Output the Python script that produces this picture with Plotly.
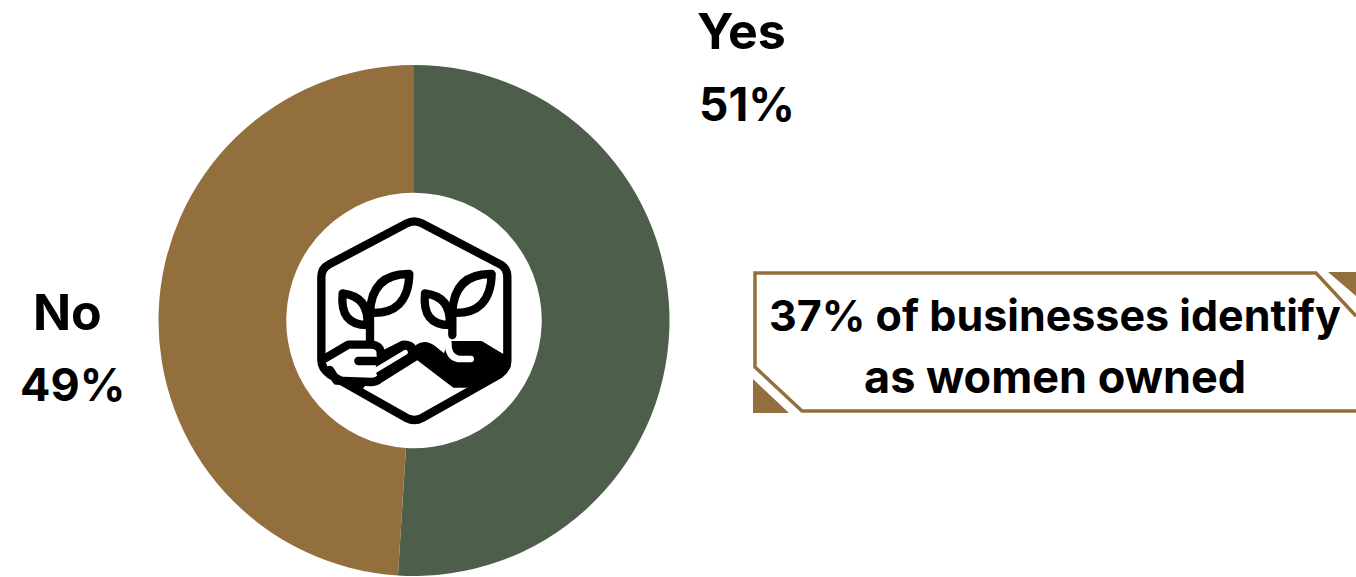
import base64
import plotly.graph_objects as go

# Survey result
answers = ["Yes", "No"]
shares = [51, 49]
slice_colors = ["#4d5f4b", "#936f3d"]
callout_lines = ["37% of businesses identify", "as women owned"]

WIDTH, HEIGHT = 1356, 577
BROWN = "#936f3d"


def px(x):
    return x / WIDTH


def py(y):
    return 1 - y / HEIGHT


def path(points):
    """Build a shape path in paper coordinates from pixel points."""
    return "M " + " L ".join(f"{px(x):.5f},{py(y):.5f}" for x, y in points)


# Seedlings-in-hands emblem for the centre of the ring
ICON_SVG = """<svg xmlns="http://www.w3.org/2000/svg" width="810" height="750" viewBox="0 0 810 750">
<g fill="none" stroke="#000" stroke-width="25" stroke-linecap="round" stroke-linejoin="round">
<path d="M380,100 Q403,88 426,100 L662,224 Q682,235 682,262 L682,510 Q682,535 660,552 L426,684 Q403,696 380,684 L150,554 Q124,535 124,510 L124,262 Q124,235 146,224 Z"/>
<path d="M388,252 Q275,250 270,368 Q385,375 388,252 Z"/>
<path d="M188,310 Q178,405 262,405 Q268,320 188,310 Z"/>
<path d="M270,375 V460"/>
<path d="M635,252 Q522,250 517,368 Q632,375 635,252 Z"/>
<path d="M435,310 Q425,405 509,405 Q515,320 435,310 Z"/>
<path d="M517,375 V435"/>
<path d="M135,505 L205,464 L275,464 Q305,467 302,495"/>
<path fill="#000" stroke="none" d="M124,520 L170,565 L275,565 L245,600 L150,560 Z"/>
<path d="M150,540 L170,572 L275,576 Q290,576 300,566 L405,500"/>
<path fill="#000" stroke="none" d="M300,485 L365,452 Q395,448 410,470 L410,510 L300,578 L285,540 Z"/>
<path stroke="#fff" stroke-width="15" d="M285,542 L376,487"/>
<path d="M235,513 L290,513"/>
<path fill="#000" stroke="none" d="M402,503 L408,465 Q435,445 465,468 L492,490 L505,453 L605,453 L692,505 L692,530 Q680,550 660,560 L575,593 L520,593 Z"/>
<path stroke="#fff" stroke-width="20" d="M505,458 Q503,500 535,507 L572,507"/>
</g></svg>"""
icon_uri = "data:image/svg+xml;base64," + base64.b64encode(ICON_SVG.encode()).decode()

fig = go.Figure(
    go.Pie(
        labels=answers,
        values=shares,
        hole=0.5,
        sort=False,
        direction="clockwise",
        rotation=0,
        marker=dict(colors=slice_colors, line=dict(width=0)),
        textinfo="none",
        hoverinfo="label+percent",
        showlegend=False,
        domain=dict(x=[px(158.5), px(669.5)], y=[py(576), py(65)]),
    )
)

FONT = "Inter"


def label(text, x, y, size):
    fig.add_annotation(
        text=f"<b>{text}</b>",
        x=px(x),
        y=py(y),
        xref="paper",
        yref="paper",
        xanchor="center",
        yanchor="middle",
        showarrow=False,
        font=dict(family=FONT, size=size, color="#000000"),
    )


# Answer labels sit outside the ring, name above share
label(answers[0], 741, 31, 50)
label(f"{shares[0]}%", 747, 104, 46)
label(answers[1], 67, 312, 50)
label(f"{shares[1]}%", 72, 384, 45)

# Callout copy
label(callout_lines[0], 1055, 315, 43)
label(callout_lines[1], 1055, 376, 45)

# Callout frame with clipped corners, running off the right edge
fig.add_shape(
    type="path",
    path=path([(1356, 316), (1316, 273), (755, 273), (755, 367), (802, 411), (1356, 411)]),
    xref="paper",
    yref="paper",
    line=dict(color=BROWN, width=3.5),
)
# Corner accents
fig.add_shape(
    type="path",
    path=path([(1328, 272), (1356, 272), (1356, 296)]) + " Z",
    xref="paper",
    yref="paper",
    fillcolor=BROWN,
    line=dict(width=0),
)
fig.add_shape(
    type="path",
    path=path([(753, 379), (753, 413), (789, 413)]) + " Z",
    xref="paper",
    yref="paper",
    fillcolor=BROWN,
    line=dict(width=0),
)

fig.add_layout_image(
    source=icon_uri,
    xref="paper",
    yref="paper",
    x=px(280),
    y=py(190),
    sizex=270 / WIDTH,
    sizey=250 / HEIGHT,
    xanchor="left",
    yanchor="top",
    sizing="stretch",
    layer="above",
)

fig.update_layout(
    width=WIDTH,
    height=HEIGHT,
    margin=dict(l=0, r=0, t=0, b=0),
    paper_bgcolor="#ffffff",
    plot_bgcolor="#ffffff",
    font=dict(family=FONT),
)

fig.write_html("out.html", config={"displayModeBar": False})
